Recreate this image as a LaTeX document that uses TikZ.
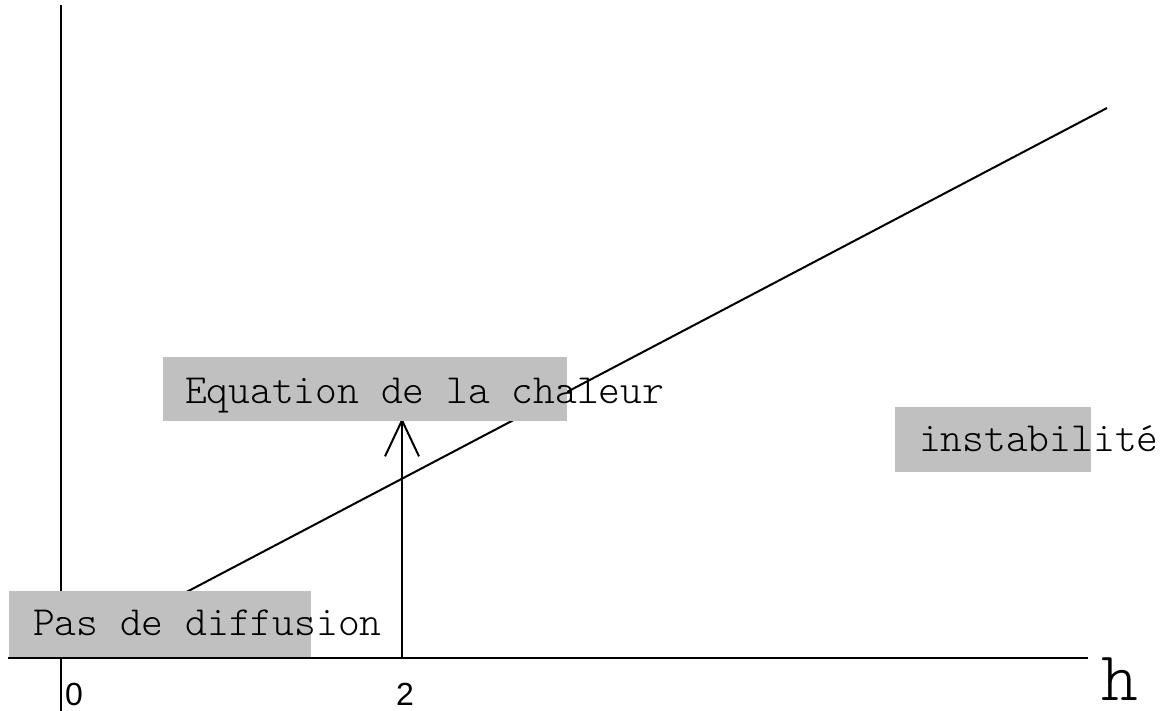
\documentclass[tikz,border=0pt]{standalone}
\usepackage{fontspec}
\setsansfont{Liberation Sans}
\newfontfamily\thinmono{Latin Modern Mono Light}
\usetikzlibrary{arrows.meta}
\usetikzlibrary{positioning}

\begin{document}
\begin{tikzpicture}[x=1pt, y=-1pt, line width=2pt,
    region/.style={fill={rgb,255:red,192;green,192;blue,192}, draw=none, inner sep=0pt, anchor=north west},
    regiontext/.style={font=\thinmono\fontsize{41.5}{41.5}\selectfont, inner sep=0pt, anchor=base west},
    ticklabel/.style={font=\sffamily\fontsize{32}{32}\selectfont, inner sep=0pt, anchor=base}]
        \useasboundingbox (0,0) rectangle (1161,711);

        \coordinate (origin) at (61, 658);
        \coordinate (ytop) at (61, 5);
        \coordinate (ybottom) at (61, 711);
        \coordinate (xleft) at (8, 658);
        \coordinate (xright) at (1088, 658);
        \coordinate (lineend) at (1107, 108);
        \coordinate (foot) at (402, 658);
        \coordinate (tip) at (402, 418);

        \draw (ybottom) -- (ytop);
        \draw (xleft) -- (xright);
        \draw (origin) -- (lineend);
        \draw[-{Straight Barb[length=36pt, width=34pt]}] (foot) -- (tip);

        % grey regions
        \node[region, minimum width=302pt, minimum height=66pt] (pasbox) at (8, 590) {};
        \node[region, minimum width=404pt, minimum height=64pt] (eqbox) at (162, 356) {};
        \node[region, minimum width=196pt, minimum height=65pt] (instbox) at (894, 406) {};

        \node[regiontext] (pastext) at (32, 635) {Pas de diffusion};
        \node[regiontext] (eqtext) at (184, 403) {Equation de la chaleur};
        \node[regiontext] (insttext) at (918, 451) {instabilité};

        \node[ticklabel] (zero) at (74, 705) {0};
        \node[ticklabel] (two) at (405, 705) {2};
        \node[font=\thinmono\fontsize{70}{70}\selectfont, inner sep=0pt, anchor=base] (hlabel) at (1120, 700) {h};
      \end{tikzpicture}
\end{document}
